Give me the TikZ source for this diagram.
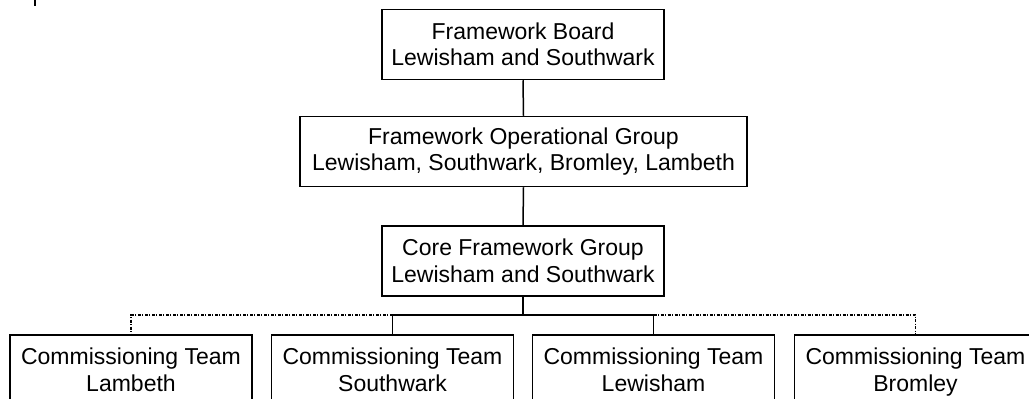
\documentclass[tikz,border=0pt]{standalone}
\usepackage{fontspec}
\setmainfont{Liberation Sans}
\begin{document}
\begin{tikzpicture}[x=1pt,y=-1pt,
  orgbox/.style={draw, line width=1.5pt, align=center, inner sep=0pt,
    minimum height=70pt, font=\fontsize{23}{26.5}\selectfont},
  teambox/.style={orgbox, minimum width=242pt, text depth=0pt},
  link/.style={line width=1.5pt},
  weak/.style={line width=1.2pt, dash pattern=on 3pt off 1.5pt on 1pt off 1.5pt}]
\useasboundingbox (0,0) rectangle (1029,399);
\clip (0,0) rectangle (1029,399);

% governance chain
\node[orgbox, minimum width=282pt] (board) at (523,44.5)
  {Framework Board\\Lewisham and Southwark};
\node[orgbox, minimum width=447pt] (ops) at (523.5,151.5)
  {Framework Operational Group\\Lewisham, Southwark, Bromley, Lambeth};
\node[orgbox, minimum width=282pt] (core) at (523,261)
  {Core Framework Group\\Lewisham and Southwark};

% commissioning teams
\node[teambox, anchor=north] (lam) at (131,334)
  {Commissioning Team\\Lambeth};
\node[teambox, anchor=north] (sou) at (392.5,334)
  {Commissioning Team\\Southwark};
\node[teambox, anchor=north] (lew) at (653.5,334)
  {Commissioning Team\\Lewisham};
\node[teambox, anchor=north] (bro) at (915.5,334)
  {Commissioning Team\\Bromley};

\coordinate (bus) at (523,315);

% solid reporting lines
\draw[link] (board.south) -- (ops.north);
\draw[link] (ops.south) -- (core.north);
\draw[link] (core.south) -- (bus);
\draw[link] (bus) -| (sou.north);
\draw[link] (bus) -| (lew.north);

% dotted links to the outer teams
\draw[weak] (sou.north |- bus) -| (lam.north);
\draw[weak] (lew.north |- bus) -| (bro.north);

% stray mark at top left
\draw[line width=2pt] (35,0) -- (35,6);
\end{tikzpicture}
\end{document}
